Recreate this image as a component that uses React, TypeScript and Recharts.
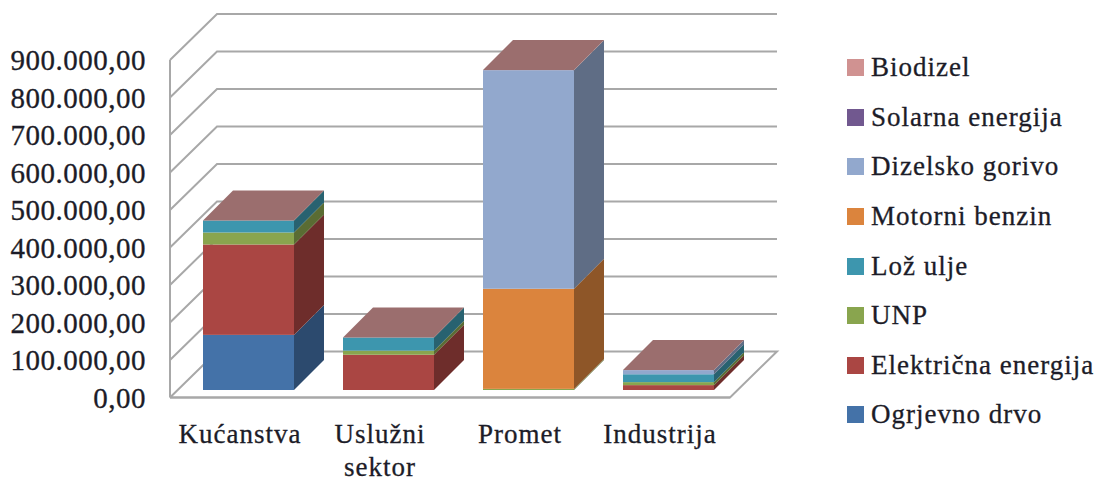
import * as React from 'react'
import { Bar, BarChart, CartesianGrid, Legend, XAxis, YAxis } from 'recharts'

const CATEGORIES = ['Kućanstva', 'Uslužni sektor', 'Promet', 'Industrija']
const TICKS = [0, 100000, 200000, 300000, 400000, 500000, 600000, 700000, 800000, 900000]

const OGRJEVNO_DRVO = [147000, 0, 0, 0]
const ELEKTRICNA = [241000, 94000, 0, 13000]
const UNP = [32000, 11000, 3000, 8000]
const LOZ_ULJE = [32000, 35000, 0, 21000]
const MOTORNI_BENZIN = [0, 0, 267000, 0]
const DIZELSKO_GORIVO = [0, 0, 583000, 11000]
const SOLARNA = [100, 100, 0, 100]
const BIODIZEL = [100, 100, 300, 100]

const SERIES = [
  { key: 'drvo', name: 'Ogrjevno drvo', values: OGRJEVNO_DRVO, color: '#4472a8', side: '#2c4a6e' },
  { key: 'el', name: 'Električna energija', values: ELEKTRICNA, color: '#aa4643', side: '#6e2d2b' },
  { key: 'unp', name: 'UNP', values: UNP, color: '#89a54e', side: '#5a6c33' },
  { key: 'loz', name: 'Lož ulje', values: LOZ_ULJE, color: '#3d96ae', side: '#286270' },
  { key: 'benzin', name: 'Motorni benzin', values: MOTORNI_BENZIN, color: '#db843d', side: '#8e5628' },
  { key: 'dizel', name: 'Dizelsko gorivo', values: DIZELSKO_GORIVO, color: '#92a8cd', side: '#5f6d85' },
  { key: 'solar', name: 'Solarna energija', values: SOLARNA, color: '#71588f', side: '#4a3a5e' },
  { key: 'bio', name: 'Biodizel', values: BIODIZEL, color: '#d09291', side: '#8a6160' }
]

const data = CATEGORIES.map((name, i) => {
  const row: Record<string, string | number> = { name }
  SERIES.forEach((s) => {
    row[s.key] = s.values[i]
  })
  return row
})

const FONT = '"Liberation Serif", serif'
const TEXT = '#1c1c28'
const GRID = '#a8a8a8'
const WALL_X = 47
const WALL_Y = 46
// bars stand a little behind the front edge of the floor
const BAR_DX = 8
const BAR_DY = 7.5
const DEPTH = 30

const fmt = (n: number) => `${String(n).replace(/\B(?=(\d{3})+$)/g, '.')},00`

function Box(props: any) {
  const { width: w, fill, side, isTop } = props
  const x = props.x + BAR_DX
  const y = props.y - BAR_DY
  const h = props.height
  return (
    <g>
      <rect x={x} y={y} width={w} height={h} fill={fill} />
      <path
        d={`M${x + w},${y}L${x + w + DEPTH},${y - DEPTH}V${y + h - DEPTH}L${x + w},${y + h}Z`}
        fill={side}
      />
      {isTop && (
        <path
          d={`M${x},${y}L${x + DEPTH},${y - DEPTH}H${x + w + DEPTH}L${x + w},${y}Z`}
          fill="#9b6e6e"
        />
      )}
    </g>
  )
}

// grid line = floor-to-wall diagonal plus the line on the back wall
function WallLine({ x1, x2, y1 }: any) {
  const floor = y1 > 390
  return (
    <path
      d={
        `M${x1},${y1}L${x1 + WALL_X},${y1 - WALL_Y}H${x2 + WALL_X}` +
        (floor ? `L${x2},${y1}H${x1}` : '')
      }
      fill="none"
      stroke={GRID}
      strokeWidth={2}
    />
  )
}

function CategoryTick({ x, y, payload }: any) {
  const words = payload.value.length > 10 ? payload.value.split(' ') : [payload.value]
  return (
    <text
      x={x}
      y={y}
      textAnchor="middle"
      fontFamily={FONT}
      fontSize={27}
      letterSpacing={1}
      fill={TEXT}
      stroke={TEXT}
      strokeWidth={0.3}
    >
      {words.map((w: string, i: number) => (
        <tspan key={w} x={x} dy={i === 0 ? 37 : 33}>
          {w}
        </tspan>
      ))}
    </text>
  )
}

function LegendList() {
  return (
    <div style={{ fontFamily: FONT, fontSize: 27, letterSpacing: 1, color: TEXT, WebkitTextStroke: '0.3px #1c1c28' }}>
      {[...SERIES].reverse().map((s) => (
        <div key={s.key} style={{ display: 'flex', alignItems: 'center', height: 49.6, whiteSpace: 'nowrap' }}>
          <span style={{ width: 17, height: 17, background: s.color, marginRight: 7, flex: 'none' }} />
          {s.name}
        </div>
      ))}
    </div>
  )
}

export default function App() {
  return (
    <div style={{ position: 'absolute', left: 0, top: 0, width: 1097, height: 478, background: '#fff' }}>
      <BarChart
        width={1097}
        height={478}
        data={data}
        margin={{ top: 60, right: 115, bottom: 0, left: 0 }}
        barSize={91}
      >
        <CartesianGrid vertical={false} horizontal={(p: any) => <WallLine key={p.key} {...p} />} />
        <XAxis
          dataKey="name"
          height={80.5}
          interval={0}
          tickLine={false}
          axisLine={{ stroke: GRID, strokeWidth: 2 }}
          tick={<CategoryTick />}
        />
        <YAxis
          width={170}
          domain={[0, 900000]}
          ticks={TICKS}
          interval={0}
          tickSize={0}
          tickMargin={24}
          tickFormatter={fmt}
          axisLine={{ stroke: GRID, strokeWidth: 2 }}
          tick={{ fontFamily: FONT, fontSize: 29, fill: TEXT, letterSpacing: 0.5, stroke: TEXT, strokeWidth: 0.3 }}
        />
        <Legend
          layout="vertical"
          align="right"
          verticalAlign="top"
          width={252}
          wrapperStyle={{ left: 847, top: 43, right: 'auto' }}
          content={<LegendList />}
        />
        {SERIES.map((s, i) => (
          <Bar
            key={s.key}
            dataKey={s.key}
            name={s.name}
            stackId="t"
            fill={s.color}
            isAnimationActive={false}
            shape={(p: any) => <Box {...p} side={s.side} isTop={i === SERIES.length - 1} />}
          />
        ))}
      </BarChart>
    </div>
  )
}
